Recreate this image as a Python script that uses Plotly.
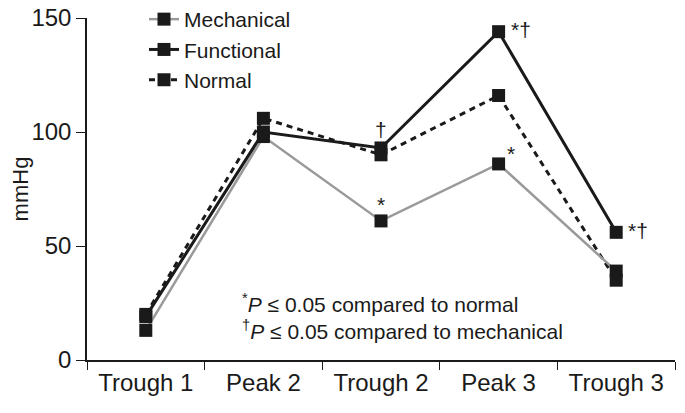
import plotly.graph_objects as go

categories = ["Trough 1", "Peak 2", "Trough 2", "Peak 3", "Trough 3"]
mechanical = [13, 98, 61, 86, 39]
functional = [19, 100, 93, 144, 56]
normal = [20, 106, 90, 116, 35]
y_ticks = [0, 50, 100, 150]

FONT = "Liberation Sans, Arial, sans-serif"
INK = "#1a1a1a"

fig = go.Figure()
fig.add_trace(go.Scatter(x=categories, y=normal, name="Normal", mode="lines+markers",
                         line=dict(color=INK, width=3, dash="6px,5px"),
                         marker=dict(symbol="square", size=13, color=INK)))
fig.add_trace(go.Scatter(x=categories, y=mechanical, name="Mechanical", mode="lines+markers",
                         line=dict(color="#9a9a9a", width=2.5),
                         marker=dict(symbol="square", size=13, color=INK)))
fig.add_trace(go.Scatter(x=categories, y=functional, name="Functional", mode="lines+markers",
                         line=dict(color=INK, width=3),
                         marker=dict(symbol="square", size=13, color=INK)))

# significance markers
ann = [
    (3, functional[3], "*†", 22, 2),
    (2, functional[2], "†", 0, 18),
    (3, mechanical[3], "*", 12, 10),
    (2, mechanical[2], "*", 0, 16),
    (4, functional[4], "*†", 22, 2),
]
for xi, yv, txt, xs, ys in ann:
    fig.add_annotation(x=xi, y=yv, text=txt, showarrow=False, xshift=xs, yshift=ys,
                       font=dict(family=FONT, size=21, color=INK))

fig.add_annotation(xref="paper", yref="paper", x=(240 - 87) / 588, y=(360 - 316) / 342,
                   xanchor="left", yanchor="middle", align="left", showarrow=False,
                   text="<sup>*</sup><i>P</i> ≤ 0.05 compared to normal<br><sup>†</sup><i>P</i> ≤ 0.05 compared to mechanical",
                   font=dict(family=FONT, size=21, color=INK))

# page body has an 8px margin: compensate so the plot area lands at x 87..675, y 18..360
fig.update_layout(
    width=685, height=413,
    margin=dict(l=79, r=18, t=10, b=61, autoexpand=False),
    paper_bgcolor="white", plot_bgcolor="white",
    font=dict(family=FONT, size=22, color=INK),
    showlegend=True,
    legend=dict(x=(144 - 87) / 588, y=1 + 19 / 342, xref="paper", yref="paper",
                xanchor="left", yanchor="top",
                traceorder="normal", font=dict(family=FONT, size=21, color=INK),
                bgcolor="rgba(0,0,0,0)", tracegroupgap=0),
)
# legend order: Mechanical, Functional, Normal
fig.data[1].legendrank = 1
fig.data[2].legendrank = 2
fig.data[0].legendrank = 3

fig.update_xaxes(type="category", tickson="boundaries", ticks="outside", ticklen=8,
                 tickcolor=INK, showline=True, linecolor=INK, linewidth=1.5,
                 showgrid=False, zeroline=False, range=[-0.5, 4.5], automargin=False,
                 ticklabeloverflow="allow",
                 tickfont=dict(family=FONT, size=24, color=INK))
fig.update_yaxes(range=[0, 150], tickvals=y_ticks, ticks="outside", ticklen=9,
                 tickcolor=INK, showline=True, linecolor=INK, linewidth=1.5,
                 showgrid=False, zeroline=False, automargin=False,
                 ticklabeloverflow="allow",
                 title=dict(text="mmHg", font=dict(family=FONT, size=22, color=INK), standoff=14),
                 tickfont=dict(family=FONT, size=24, color=INK))

fig.write_html("out.html")
